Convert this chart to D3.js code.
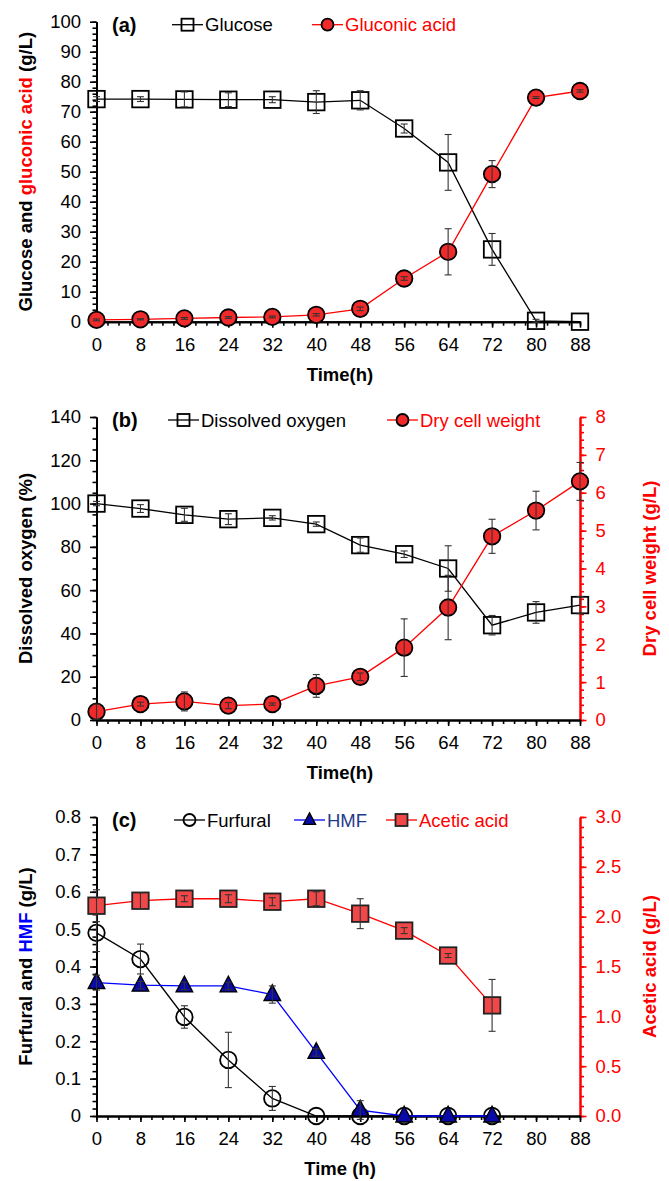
<!DOCTYPE html>
<html>
<head>
<meta charset="utf-8">
<script src="https://cdn.jsdelivr.net/npm/d3@7"></script>
<style>
  body { margin: 0; background: #fff; }
  svg { display: block; font-family: "Liberation Sans", Arial, sans-serif; }
</style>
</head>
<body>
<svg id="chart" width="669" height="1181"></svg>
<script>
// time points (h)
const times = [0, 8, 16, 24, 32, 40, 48, 56, 64, 72, 80, 88];
const timeTicks = [0, 8, 16, 24, 32, 40, 48, 56, 64, 72, 80, 88];

// panel (a)
const glucose = [74.2, 74.2, 74.1, 74.0, 74.0, 73.2, 73.8, 64.4, 53.1, 24.1, 0.3, 0];
const glucoseErr = [0.8, 0.8, 2.5, 2.3, 1.0, 3.8, 3.2, 1.5, 9.3, 5.3, 0.5, 0];
const gluconic = [0.6, 0.8, 1.1, 1.4, 1.6, 2.3, 4.3, 14.4, 23.3, 49.2, 74.7, 76.9];
const gluconicErr = [0.3, 0.2, 0.3, 0.3, 0.3, 0.4, 0.6, 0.6, 7.7, 4.5, 0.3, 0.4];

// panel (b)
const oxygen = [100, 97.7, 94.8, 92.8, 93.4, 90.5, 80.8, 76.6, 70.0, 43.8, 49.7, 53.1];
const oxygenErr = [1.0, 1.8, 3.0, 2.5, 1.0, 1.0, 3.3, 1.5, 10.5, 4.5, 5.0, 4.0];
const dcw = [0.22, 0.42, 0.49, 0.38, 0.42, 0.90, 1.14, 1.91, 2.97, 4.85, 5.53, 6.30];
const dcwErr = [0.2, 0.05, 0.25, 0.08, 0.03, 0.3, 0.1, 0.76, 0.85, 0.45, 0.51, 0.5];

// panel (c)
const furfural = [0.49, 0.42, 0.265, 0.15, 0.047, 0, 0, 0, 0, 0];
const furfuralErr = [0.05, 0.04, 0.03, 0.074, 0.032, 0, 0, 0, 0, 0];
const hmf = [0.357, 0.35, 0.348, 0.348, 0.325, 0.17, 0.016, 0, 0, 0];
const hmfErr = [0.02, 0.01, 0.01, 0.01, 0.023, 0.01, 0.025, 0, 0, 0];
const acetic = [2.11, 2.16, 2.18, 2.18, 2.15, 2.18, 2.03, 1.86, 1.61, 1.11];
const aceticErr = [0.16, 0.08, 0.03, 0.04, 0.04, 0.07, 0.15, 0.03, 0.02, 0.26];

const svg = d3.select("#chart");
const RED = "#ff0000";
const x = d3.scaleLinear().domain([0, 88]).range([96.5, 580]);

function toPoints(vals, errs) {
    return vals.map((v, i) => ({ t: times[i], v: v, e: errs[i] }));
}

function marker(g, type, cx, cy, s) {
    if (type === "square" || type === "redsquare") {
        g.append("rect")
            .attr("x", cx - s / 2).attr("y", cy - s / 2)
            .attr("width", s).attr("height", s)
            .attr("fill", type === "square" ? "none" : "#f04848")
            .attr("stroke", type === "square" ? "#000" : "#222")
            .attr("stroke-width", 1.8);
    } else if (type === "circle" || type === "redcircle") {
        g.append("circle")
            .attr("cx", cx).attr("cy", cy).attr("r", s / 2)
            .attr("fill", type === "circle" ? "none" : "#f02a2a")
            .attr("stroke", "#000")
            .attr("stroke-width", 1.8);
    } else if (type === "triangle") {
        const h = s * 0.95;
        g.append("path")
            .attr("d", `M${cx},${cy - h * 0.62}L${cx + s / 2},${cy + h * 0.38}L${cx - s / 2},${cy + h * 0.38}Z`)
            .attr("fill", "#0a0aa8")
            .attr("stroke", "#000")
            .attr("stroke-width", 1.4);
    }
}

function series(g, y, pts, color, type) {
    const line = d3.line().x(d => x(d.t)).y(d => y(d.v));
    g.append("path").datum(pts)
        .attr("fill", "none")
        .attr("stroke", color)
        .attr("stroke-width", 1.3)
        .attr("d", line);
    pts.forEach(d => marker(g, type, x(d.t), y(d.v), 16.5));
    // error bars on top of the markers
    pts.filter(d => d.e > 0).forEach(d => {
        const cx = x(d.t), y1 = y(d.v - d.e), y2 = y(d.v + d.e);
        g.append("line").attr("x1", cx).attr("x2", cx).attr("y1", y1).attr("y2", y2)
            .attr("stroke", "#333").attr("stroke-width", 1.1);
        [y1, y2].forEach(yy => g.append("line")
            .attr("x1", cx - 3.5).attr("x2", cx + 3.5).attr("y1", yy).attr("y2", yy)
            .attr("stroke", "#333").attr("stroke-width", 1.1));
    });
}

function styleAxis(sel, color) {
    sel.select(".domain").attr("stroke", color).attr("stroke-width", 2);
    sel.selectAll(".tick line").attr("stroke", color).attr("stroke-width", 1.6);
    sel.selectAll(".tick text")
        .attr("fill", color)
        .style("font-size", "18.5px")
        .style("font-family", "'Liberation Sans', Arial, sans-serif");
}

function drawPanel(p) {
    const g = svg.append("g");
    const y = d3.scaleLinear().domain([0, p.yMax]).range([p.bottom, p.top]);

    // left axis
    const minorL = d3.range(0, p.yMax + 1e-9, p.yMinor).map(v => +v.toFixed(4));
    g.append("g").attr("transform", "translate(96.5,0)")
        .call(d3.axisLeft(y).tickValues(minorL).tickSize(4).tickSizeOuter(0).tickFormat(""))
        .call(s => styleAxis(s, "#000"));
    g.append("g").attr("transform", "translate(96.5,0)")
        .call(d3.axisLeft(y).tickValues(p.yTicks).tickSize(6.5).tickSizeOuter(0).tickPadding(9).tickFormat(p.yFormat))
        .call(s => styleAxis(s, "#000"));

    // right axis
    let y2 = null;
    if (p.right) {
        y2 = d3.scaleLinear().domain([0, p.right.max]).range([p.bottom, p.top]);
        const minorR = d3.range(0, p.right.max + 1e-9, p.right.minor).map(v => +v.toFixed(4));
        g.append("g").attr("transform", "translate(580,0)")
            .call(d3.axisRight(y2).tickValues(minorR).tickSize(4).tickSizeOuter(0).tickFormat(""))
            .call(s => styleAxis(s, RED));
        g.append("g").attr("transform", "translate(580,0)")
            .call(d3.axisRight(y2).tickValues(p.right.ticks).tickSize(6.5).tickSizeOuter(0).tickPadding(9).tickFormat(p.right.format))
            .call(s => styleAxis(s, RED));
    }

    // bottom axis
    const minorX = d3.range(0, 89, 2);
    g.append("g").attr("transform", `translate(0,${p.bottom})`)
        .call(d3.axisBottom(x).tickValues(minorX).tickSize(4).tickSizeOuter(0).tickFormat(""))
        .call(s => styleAxis(s, "#000"));
    g.append("g").attr("transform", `translate(0,${p.bottom})`)
        .call(d3.axisBottom(x).tickValues(timeTicks).tickSize(6).tickSizeOuter(0).tickPadding(10).tickFormat(d3.format("d")))
        .call(s => styleAxis(s, "#000"));

    // x title
    g.append("text")
        .attr("x", 340).attr("y", p.bottom + 59)
        .attr("text-anchor", "middle")
        .style("font-size", "18.5px").style("font-weight", "bold")
        .text(p.xTitle);

    // left title
    const mid = (p.top + p.bottom) / 2;
    const lt = g.append("text")
        .attr("transform", `translate(32,${mid}) rotate(-90)`)
        .attr("text-anchor", "middle")
        .style("font-size", "18.5px").style("font-weight", "bold");
    p.leftTitle.forEach(part => lt.append("tspan").attr("fill", part[1]).text(part[0]));

    if (p.rightTitle) {
        g.append("text")
            .attr("transform", `translate(656,${mid}) rotate(-90)`)
            .attr("text-anchor", "middle")
            .attr("fill", RED)
            .style("font-size", "18.5px").style("font-weight", "bold")
            .text(p.rightTitle);
    }

    // series
    p.series.forEach(s => series(g, s.axis === "right" ? y2 : y, s.pts, s.color, s.type));

    // panel letter
    g.append("text")
        .attr("x", 112).attr("y", p.top + 10)
        .style("font-size", "20px").style("font-weight", "bold")
        .text(p.letter);

    // legend
    p.legend.forEach(l => {
        const ly = p.top + 3;
        g.append("line").attr("x1", l.x).attr("x2", l.x + 31).attr("y1", ly).attr("y2", ly)
            .attr("stroke", l.color).attr("stroke-width", 1.3);
        marker(g, l.type, l.x + 15.5, ly, 12);
        g.append("text")
            .attr("x", l.x + 33).attr("y", ly + 6.6)
            .attr("fill", l.textColor)
            .style("font-size", "18.5px")
            .text(l.label);
    });
}

drawPanel({
    top: 21.7, bottom: 321.7, yMax: 100,
    yTicks: d3.range(0, 101, 10), yMinor: 2, yFormat: d3.format("d"),
    xTitle: "Time(h)",
    leftTitle: [["Glucose and ", "#000"], ["gluconic acid", RED], [" (g/L)", "#000"]],
    letter: "(a)",
    series: [
        { pts: toPoints(glucose, glucoseErr), color: "#000", type: "square" },
        { pts: toPoints(gluconic, gluconicErr), color: RED, type: "redcircle" }
    ],
    legend: [
        { x: 172, label: "Glucose", color: "#000", textColor: "#000", type: "square" },
        { x: 312, label: "Gluconic acid", color: RED, textColor: RED, type: "redcircle" }
    ]
});

drawPanel({
    top: 417, bottom: 720, yMax: 140,
    yTicks: d3.range(0, 141, 20), yMinor: 5, yFormat: d3.format("d"),
    right: { max: 8, ticks: d3.range(0, 9, 1), minor: 0.2, format: d3.format("d") },
    xTitle: "Time(h)",
    leftTitle: [["Dissolved oxygen (%)", "#000"]],
    rightTitle: "Dry cell weight (g/L)",
    letter: "(b)",
    series: [
        { pts: toPoints(oxygen, oxygenErr), color: "#000", type: "square" },
        { pts: toPoints(dcw, dcwErr), color: RED, type: "redcircle", axis: "right" }
    ],
    legend: [
        { x: 168, label: "Dissolved oxygen", color: "#000", textColor: "#000", type: "square" },
        { x: 387, label: "Dry cell weight", color: RED, textColor: RED, type: "redcircle" }
    ]
});

drawPanel({
    top: 817, bottom: 1116, yMax: 0.8,
    yTicks: [0, 0.1, 0.2, 0.3, 0.4, 0.5, 0.6, 0.7, 0.8], yMinor: 0.02,
    yFormat: d => d === 0 ? "0" : d3.format(".1f")(d),
    right: { max: 3.0, ticks: [0, 0.5, 1.0, 1.5, 2.0, 2.5, 3.0], minor: 0.1, format: d3.format(".1f") },
    xTitle: "Time (h)",
    leftTitle: [["Furfural and ", "#000"], ["HMF", "#0000ff"], [" (g/L)", "#000"]],
    rightTitle: "Acetic acid (g/L)",
    letter: "(c)",
    series: [
        { pts: toPoints(acetic, aceticErr), color: RED, type: "redsquare", axis: "right" },
        { pts: toPoints(furfural, furfuralErr), color: "#000", type: "circle" },
        { pts: toPoints(hmf, hmfErr), color: "#0000ff", type: "triangle" }
    ],
    legend: [
        { x: 174, label: "Furfural", color: "#000", textColor: "#000", type: "circle" },
        { x: 294, label: "HMF", color: "#0000ff", textColor: "#1f3c8c", type: "triangle" },
        { x: 386, label: "Acetic acid", color: RED, textColor: RED, type: "redsquare" }
    ]
});
</script>
</body>
</html>
